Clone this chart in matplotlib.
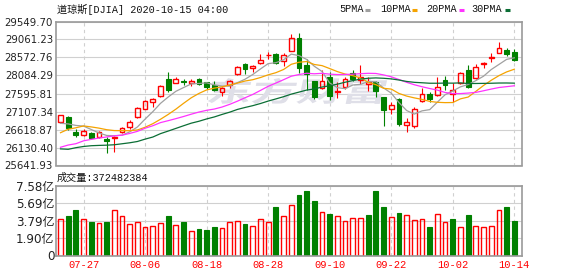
import numpy as np
import matplotlib
matplotlib.use('Agg')
import matplotlib.pyplot as plt
import matplotlib.transforms as mtransforms
from matplotlib.patches import PathPatch
from matplotlib.textpath import TextPath
from matplotlib.font_manager import FontProperties
from matplotlib.lines import Line2D

plt.rcParams['font.family'] = ['DejaVu Sans', 'Noto Sans CJK SC']

dates = ['07-22', '07-23', '07-24', '07-27', '07-28', '07-29', '07-30', '07-31',
         '08-03', '08-04', '08-05', '08-06', '08-07', '08-10', '08-11', '08-12',
         '08-13', '08-14', '08-17', '08-18', '08-19', '08-20', '08-21', '08-24',
         '08-25', '08-26', '08-27', '08-28', '08-31', '09-01', '09-02', '09-03',
         '09-04', '09-08', '09-09', '09-10', '09-11', '09-14', '09-15', '09-16',
         '09-17', '09-18', '09-21', '09-22', '09-23', '09-24', '09-25', '09-28',
         '09-29', '09-30', '10-01', '10-02', '10-05', '10-06', '10-07', '10-08',
         '10-09', '10-12', '10-13', '10-14']

opens = [26830, 26947, 26548, 26458, 26512, 26403, 26350, 26400, 26548, 26675,
         26947, 27183, 27355, 27519, 27990, 27891, 27937, 27873, 27980, 27900,
         27836, 27646, 27827, 28118, 28390, 28300, 28417, 28634, 28671, 28489,
         28760, 29097, 28371, 27936, 27737, 28054, 27640, 27782, 28145, 27970,
         27860, 27918, 27492, 27175, 27440, 26735, 26720, 27392, 27582, 27555,
         27964, 27582, 27873, 28236, 28009, 28390, 28570, 28707, 28780, 28734]
highs = [27020, 26984, 26621, 26621, 26548, 26585, 26420, 26440, 26694, 26875,
         27220, 27419, 27483, 27818, 28190, 28054, 27990, 27990, 28010, 27918,
         27936, 27782, 27963, 28344, 28435, 28372, 28662, 28734, 28689, 28689,
         29200, 29233, 28526, 27940, 28235, 28172, 27900, 28050, 28235, 28370,
         28050, 27936, 27492, 27370, 27483, 26920, 27220, 27737, 27628, 28036,
         28072, 27873, 28190, 28371, 28399, 28462, 28689, 28988, 28843, 28798]
lows = [26800, 26603, 26422, 26440, 26349, 26385, 25990, 26010, 26530, 26621,
        26929, 27165, 27238, 27501, 27646, 27873, 27818, 27800, 27840, 27727,
        27664, 27537, 27755, 28100, 28127, 28190, 28399, 28526, 28390, 28344,
        28740, 28140, 27691, 27460, 27710, 27420, 27480, 27718, 27930, 27850,
        27670, 27510, 26715, 27050, 26712, 26557, 26648, 27365, 27356, 27528,
        27691, 27374, 27855, 27736, 27990, 28299, 28462, 28689, 28616, 28489]
closes = [27005.84, 26652.33, 26469.89, 26584.77, 26379.28, 26539.57, 26313.65, 26428.32,
          26664.40, 26828.47, 27201.52, 27386.98, 27433.48, 27791.44, 27686.91, 27976.84,
          27896.72, 27931.02, 27844.91, 27778.07, 27692.88, 27739.73, 27930.33, 28308.46,
          28248.44, 28331.92, 28492.27, 28653.87, 28430.05, 28645.66, 29100.50, 28292.73,
          28133.31, 27500.89, 27940.47, 27534.58, 27665.64, 27993.33, 27995.60, 28032.38,
          27901.98, 27657.42, 27147.70, 27288.18, 26763.13, 26815.44, 27173.96, 27584.06,
          27452.66, 27781.70, 27816.90, 27682.81, 28148.64, 27772.76, 28303.46, 28425.51,
          28586.90, 28837.52, 28679.81, 28514.00]
prev_close = 26840.40  # 07-21

# 成交量, 单位: 亿
volume = [4.03, 4.32, 4.94, 4.03, 3.63, 3.52, 3.63, 4.91, 4.36, 3.48,
          3.70, 3.15, 3.26, 3.59, 4.28, 3.37, 3.63, 2.71, 2.86, 2.75,
          3.08, 3.04, 3.70, 3.81, 3.41, 3.26, 4.03, 3.70, 5.27, 4.28,
          5.49, 6.59, 7.03, 5.93, 4.69, 4.50, 4.36, 3.81, 4.14, 4.14,
          4.39, 7.03, 5.27, 4.25, 4.61, 4.47, 3.92, 4.03, 3.08, 4.58,
          3.70, 3.95, 3.15, 4.39, 3.26, 3.15, 3.26, 4.91, 5.27, 3.72]
last_volume = 372482384

ma5 = [26786.8, 26770.2, 26729.8, 26710.6, 26618.4, 26525.2, 26457.6, 26449.2, 26465.0, 26554.8,
       26687.2, 26901.8, 27102.8, 27328.2, 27500.0, 27655.0, 27757.0, 27856.6, 27867.4, 27885.6,
       27828.8, 27797.4, 27797.2, 27889.8, 27983.8, 28111.6, 28262.0, 28406.8, 28431.2, 28510.8,
       28664.6, 28624.8, 28520.6, 28334.8, 28193.6, 27880.4, 27755.0, 27727.0, 27826.0, 27844.4,
       27917.8, 27916.0, 27747.0, 27605.4, 27351.6, 27134.2, 27037.6, 27124.8, 27157.8, 27361.6,
       27562.0, 27663.8, 27776.8, 27840.8, 27945.0, 28065.2, 28246.0, 28383.8, 28522.0, 28564.2]
ma10 = [26531.4, 26626.0, 26665.5, 26715.4, 26689.0, 26656.0, 26613.9, 26589.5, 26587.8, 26586.6,
        26606.2, 26679.7, 26776.0, 26896.6, 27027.4, 27171.1, 27329.4, 27479.7, 27597.8, 27692.8,
        27741.9, 27777.2, 27826.9, 27878.6, 27934.7, 27970.2, 28029.7, 28102.0, 28160.5, 28247.3,
        28388.1, 28443.4, 28463.7, 28383.0, 28352.2, 28272.5, 28189.9, 28123.8, 28080.4, 28019.0,
        27899.1, 27835.5, 27737.0, 27715.7, 27598.0, 27526.0, 27476.8, 27435.9, 27381.6, 27356.6,
        27348.1, 27350.7, 27450.8, 27499.3, 27653.3, 27813.6, 27954.9, 28080.3, 28181.4, 28254.6]
ma20 = [26136.9, 26197.2, 26233.4, 26311.8, 26351.0, 26387.3, 26416.3, 26446.3, 26465.2, 26512.1,
        26568.8, 26652.9, 26720.8, 26806.0, 26858.2, 26913.6, 26971.7, 27034.6, 27092.8, 27139.7,
        27174.1, 27228.5, 27301.5, 27387.6, 27481.1, 27570.7, 27679.6, 27790.9, 27879.2, 27970.1,
        28065.0, 28110.3, 28145.3, 28130.8, 28143.5, 28121.4, 28109.8, 28112.9, 28120.5, 28133.2,
        28143.6, 28139.5, 28100.4, 28049.4, 27975.1, 27899.3, 27833.4, 27779.9, 27731.0, 27687.8,
        27623.6, 27593.1, 27593.9, 27607.5, 27625.7, 27669.8, 27715.9, 27758.1, 27781.5, 27805.6]
ma30 = [26092.2, 26080.9, 26125.7, 26158.3, 26178.8, 26187.2, 26193.6, 26205.2, 26231.7, 26258.4,
        26293.3, 26358.0, 26414.2, 26506.7, 26576.4, 26648.6, 26720.6, 26790.8, 26842.7, 26905.6,
        26959.8, 27027.6, 27089.5, 27163.5, 27217.0, 27265.8, 27324.3, 27390.4, 27448.7, 27508.9,
        27578.7, 27633.4, 27688.9, 27719.4, 27771.4, 27804.6, 27849.7, 27901.8, 27946.2, 27986.4,
        28009.7, 28018.7, 28009.2, 27992.4, 27961.6, 27922.9, 27898.8, 27887.2, 27874.2, 27874.3,
        27878.4, 27876.5, 27883.8, 27866.0, 27867.8, 27870.7, 27873.9, 27880.0, 27881.1, 27876.7]

price_ticks = [25641.93, 26130.40, 26618.87, 27107.34, 27595.81,
               28084.29, 28572.76, 29061.23, 29549.70]
vol_ticks = [0, 1.90, 3.79, 5.69, 7.58]
vol_labels = ['0', '1.90亿', '3.79亿', '5.69亿', '7.58亿']
date_ticks = ['07-27', '08-06', '08-18', '08-28', '09-10', '09-22', '10-02', '10-14']
ma_names = ['5PMA', '10PMA', '20PMA', '30PMA']

RED = '#ff0000'
GREEN = '#008000'
GRID = '#d0d0d0'
FRAME = '#9a9a9a'
ma_colors = ['#a0a0a0', '#f5a300', '#ff33ff', '#0b6e35']
MONO = ['Liberation Mono', 'Noto Sans CJK SC']

W, H = 578, 276
fig = plt.figure(figsize=(W / 100, H / 100), dpi=100)


def px_axes(l, t, r, b):
    return fig.add_axes([l / W, 1 - b / H, (r - l) / W, (b - t) / H])


ax = px_axes(56, 21.5, 522, 165.5)
axv = px_axes(56, 186, 522, 255.5)

x = np.arange(len(dates))
o = np.array(opens, dtype=float)
h = np.array(highs, dtype=float)
l = np.array(lows, dtype=float)
c = np.array(closes)
up = c >= o
dn = ~up
bw = 0.62

# K线: 阳线空心红, 阴线实心绿
ax.vlines(x[up], c[up], h[up], color=RED, lw=0.8, zorder=2)
ax.vlines(x[up], l[up], o[up], color=RED, lw=0.8, zorder=2)
ax.bar(x[up], np.maximum(c - o, 6)[up], bottom=o[up], width=bw,
       facecolor='none', edgecolor=RED, lw=1.0, zorder=2)
ax.vlines(x[dn], l[dn], h[dn], color=GREEN, lw=0.8, zorder=2)
ax.bar(x[dn], np.maximum(o - c, 6)[dn], bottom=c[dn], width=bw,
       color=GREEN, edgecolor=GREEN, lw=0.8, zorder=2)

for ma, col in zip([ma5, ma10, ma20, ma30], ma_colors):
    ax.plot(x, ma, color=col, lw=0.9, zorder=3)

# 成交量颜色按收盘价涨跌
prev = np.r_[prev_close, c[:-1]]
vup = c >= prev
vol = np.array(volume)
axv.bar(x[vup], vol[vup], width=bw, facecolor='none', edgecolor=RED, lw=1.0, zorder=2)
axv.bar(x[~vup], vol[~vup], width=bw, color=GREEN, edgecolor=GREEN, lw=0.8, zorder=2)

tick_idx = [dates.index(d) for d in date_ticks]
for a in (ax, axv):
    a.set_xlim(-0.585, 60.0)
    a.set_xticks(tick_idx)
    a.grid(True, axis='x', color=GRID, lw=0.8, ls=(0, (3, 3)))
    a.grid(True, axis='y', color=GRID, lw=0.8)
    a.set_axisbelow(True)
    for s in a.spines.values():
        s.set_color(FRAME)
        s.set_linewidth(1.2)
    a.tick_params(length=0)

ax.set_ylim(price_ticks[0], price_ticks[-1])
ax.set_yticks(price_ticks)
ax.set_yticklabels(['%.2f' % v for v in price_ticks], fontsize=7.3, color='#222222')
ax.tick_params(axis='y', pad=2.2)
ax.set_xticklabels([])

axv.set_ylim(0, 7.58)
axv.set_yticks(vol_ticks)
axv.set_yticklabels(vol_labels, fontsize=8.6, color='#222222')
axv.tick_params(axis='y', pad=1.2)
axv.set_xticklabels(date_ticks, fontsize=7.5, color=RED, family=MONO)
axv.tick_params(axis='x', pad=3.5)

# 水印
tp = TextPath((0, 0), '东方财富', size=10,
              prop=FontProperties(family='Noto Sans CJK SC', weight='bold'))
bb = tp.get_extents()
tr = (mtransforms.Affine2D().translate(-bb.x0, -bb.y0)
      .scale(175 / bb.width, 26 / bb.height).skew_deg(12, 0)
      .translate(207, H - 104))
ax.add_patch(PathPatch(tp, transform=tr, facecolor='#dfdfe8', edgecolor='none', zorder=1.2))

fig.text(57 / W, 1 - 9.5 / H, '道琼斯[DJIA] 2020-10-15 04:00', fontsize=7.3,
         family=MONO, va='center', ha='left', color='#111111')
fig.text(57 / W, 1 - 178 / H, '成交量:%d' % last_volume, fontsize=7.3,
         family=MONO, va='center', ha='left', color='#111111')

legend_x = [339, 380, 426, 471]
swatch_x = [365, 412, 459, 505]
for name, col, tx, sx in zip(ma_names, ma_colors, legend_x, swatch_x):
    fig.text(tx / W, 1 - 9.5 / H, name, fontsize=7.3, family=MONO,
             va='center', ha='left', color='#111111')
    fig.add_artist(Line2D([sx / W, (sx + 5) / W], [1 - 10 / H, 1 - 10 / H],
                          color=col, lw=2.2, solid_capstyle='butt'))

fig.savefig('out.png', dpi=100)
